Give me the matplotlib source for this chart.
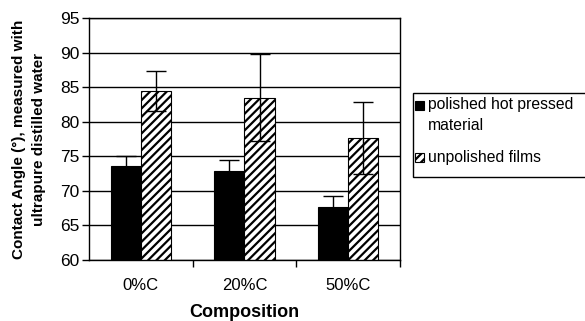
import numpy as np
import matplotlib.pyplot as plt
from matplotlib.patches import Rectangle

plt.rcParams['font.family'] = ['Liberation Sans', 'DejaVu Sans']
plt.rcParams['hatch.linewidth'] = 1.6

# contact angle data (degrees), mean and error
categories = ['0%C', '20%C', '50%C']
polished = [73.6, 72.9, 67.6]
polished_err = [1.4, 1.5, 1.6]
unpolished = [84.5, 83.5, 77.6]
unpolished_err = [2.9, 6.3, 5.2]
series_names = ['polished hot pressed\nmaterial', 'unpolished films']

fig = plt.figure(figsize=(5.85, 3.21), dpi=100)
ax = fig.add_axes([89 / 585, 1 - 260 / 321, 311 / 585, 242 / 321])

x = np.arange(len(categories))
w = 0.29
ax.bar(x - w / 2, polished, w, color='black', edgecolor='black',
       linewidth=0.8, zorder=2)
ax.bar(x + w / 2, unpolished, w, color='white', edgecolor='black',
       hatch='////', linewidth=0.8, zorder=2)
ax.errorbar(x - w / 2, polished, yerr=polished_err, fmt='none', ecolor='black',
            elinewidth=1, capsize=7, capthick=1, zorder=3)
ax.errorbar(x + w / 2, unpolished, yerr=unpolished_err, fmt='none', ecolor='black',
            elinewidth=1, capsize=7, capthick=1, zorder=3)

ax.set_ylim(60, 95)
ax.set_xlim(-0.5, 2.5)
ax.set_yticks(np.arange(60, 96, 5))
ax.yaxis.grid(True, color='black', linewidth=1, zorder=0)
ax.set_axisbelow(True)

ax.set_xticks(x)
ax.set_xticklabels(categories, fontsize=12)
ax.tick_params(axis='x', length=0, pad=13)
ax.set_xticks([0.5, 1.5, 2.5], minor=True)
ax.tick_params(axis='x', which='minor', length=5, width=1, direction='out')
ax.tick_params(axis='y', labelsize=12.5, length=5, width=1, direction='out', pad=2)

for s in ax.spines.values():
    s.set_linewidth(1)

ax.set_xlabel('Composition', fontsize=13, fontweight='bold', labelpad=8)
ax.set_ylabel('Contact Angle (\u00b0), measured with\nultrapure distilled water',
              fontsize=11, fontweight='bold', linespacing=1.55)
ax.yaxis.set_label_coords(-(89 - 46) / 311, 0.5)

# legend drawn by hand: box, swatches, labels (figure pixel coords)
def fx(px):
    return px / 585

def fy(py):
    return 1 - py / 321

fig.patches.append(Rectangle((fx(413), fy(177)), fx(175), 84 / 321,
                             transform=fig.transFigure, facecolor='white',
                             edgecolor='black', linewidth=1))
swatches = [dict(facecolor='black', hatch=None), dict(facecolor='white', hatch='////')]
sw_top = [101, 153]
label_base = [[109, 130], [162]]
for st, sw_y, bases, name in zip(swatches, sw_top, label_base, series_names):
    fig.patches.append(Rectangle((fx(415), fy(sw_y + 9)), fx(9), 9 / 321,
                                 transform=fig.transFigure, edgecolor='black',
                                 linewidth=0.8, **st))
    for base, line in zip(bases, name.split('\n')):
        fig.text(fx(428), fy(base), line, fontsize=11.3, va='baseline', ha='left')

fig.savefig('out.png', dpi=100)
